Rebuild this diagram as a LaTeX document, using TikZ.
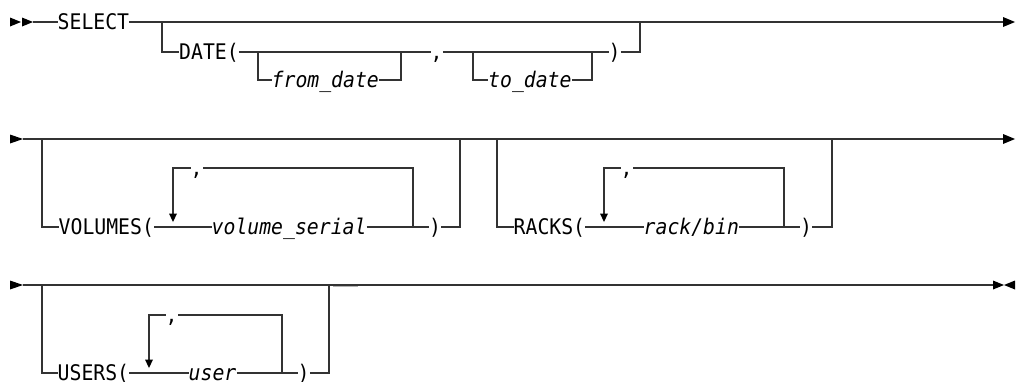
\documentclass[tikz,border=0pt]{standalone}
\usepackage{fontspec}
\newfontfamily\railfont{DejaVu Sans Mono}[FakeStretch=0.92]
\begin{document}
\begin{tikzpicture}[x=1pt,y=-1pt,
  rail/.style={draw=black!80,line width=1.3pt},
  tipfill/.style={fill=black,draw=none},
  kw/.style={font=\railfont\fontsize{21.5}{24}\selectfont, inner sep=0pt, text height=15.7pt, text depth=0pt, anchor=west},
  var/.style={kw, font=\railfont\itshape\fontsize{21.5}{24}\selectfont}]
\useasboundingbox (0,0) rectangle (1017,381);

% ---------------- Row 1 ----------------
\fill[tipfill] (10,17.5) -- (21,22) -- (10,26.5) -- cycle;
\fill[tipfill] (22,17.5) -- (33,22) -- (22,26.5) -- cycle;
\coordinate (r1s) at (33,22);
\coordinate (r1e) at (1003,22);
\node[kw] (select) at (57.5,22) {SELECT};
\draw[rail] (r1s) -- (select.west);
\draw[rail] (select.east) -- (r1e);
\fill[tipfill] (1003,17) -- (1015,22) -- (1003,27) -- cycle;

\coordinate (d0) at (162,22);
\coordinate (d1) at (640,22);
\node[kw] (date) at (179,52) {DATE(};
\coordinate (fj) at (258,52);
\coordinate (fe) at (401,52);
\node[var] (from) at (271.5,80) {from\_date};
\node[kw] (dc) at (430.5,52) {,};
\coordinate (tj) at (473,52);
\coordinate (te) at (592,52);
\node[var] (to) at (488,80) {to\_date};
\node[kw] (dp) at (608.5,52) {)};
\draw[rail] (d0) |- (date.west);
\draw[rail] (date.east) -- (dc.west);
\draw[rail] (fj) |- (from.west);
\draw[rail] (from.east) -| (fe);
\draw[rail] (dc.east) -- (dp.west);
\draw[rail] (tj) |- (to.west);
\draw[rail] (to.east) -| (te);
\draw[rail] (dp.east) -| (d1);

% ---------------- Row 2 ----------------
\fill[tipfill] (10,134.5) -- (23,139) -- (10,143.5) -- cycle;
\coordinate (r2s) at (23,139);
\coordinate (r2e) at (1003,139);
\draw[rail] (r2s) -- (r2e);
\fill[tipfill] (1003,134) -- (1015,139) -- (1003,144) -- cycle;

% VOLUMES
\coordinate (v0) at (42,139);
\coordinate (v1) at (460,139);
\node[kw] (vol) at (58.5,227) {VOLUMES(};
\coordinate (vtl) at (173,168);
\coordinate (vtr) at (413,168);
\coordinate (vr) at (413,227);
\coordinate (va) at (173,214);
\node[var] (vs) at (211.5,227) {volume\_serial};
\node[kw] (vc) at (190.5,168) {,};
\node[kw] (vp) at (429,227) {)};
\draw[rail] (v0) |- (vol.west);
\draw[rail] (vol.east) -- (vs.west);
\draw[rail] (vs.east) -- (vp.west);
\draw[rail] (vp.east) -| (v1);
\draw[rail] (vr) -- (vtr) -- (vc.east);
\draw[rail] (vc.west) -- (vtl) -- (va);
\fill[tipfill] (169,213.5) -- (177,213.5) -- (173,222) -- cycle;

% RACKS
\coordinate (k0) at (497,139);
\coordinate (k1) at (832,139);
\node[kw] (racks) at (513.5,227) {RACKS(};
\coordinate (ktl) at (604,168);
\coordinate (ktr) at (784,168);
\coordinate (kr) at (784,227);
\coordinate (ka) at (604,214);
\node[var] (rb) at (643.5,227) {rack/bin};
\node[kw] (kc) at (620.5,168) {,};
\node[kw] (kp) at (800,227) {)};
\draw[rail] (k0) |- (racks.west);
\draw[rail] (racks.east) -- (rb.west);
\draw[rail] (rb.east) -- (kp.west);
\draw[rail] (kp.east) -| (k1);
\draw[rail] (kr) -- (ktr) -- (kc.east);
\draw[rail] (kc.west) -- (ktl) -- (ka);
\fill[tipfill] (600,213.5) -- (608,213.5) -- (604,222) -- cycle;

% ---------------- Row 3 ----------------
\fill[tipfill] (10,280.5) -- (23,285) -- (10,289.5) -- cycle;
\draw[gray!60,line width=2.5pt] (333,285.8) -- (358,285.8);
\coordinate (r3s) at (23,285);
\coordinate (r3e) at (993,285);
\draw[rail] (r3s) -- (r3e);
\fill[tipfill] (993,280.5) -- (1004,285) -- (993,289.5) -- cycle;
\fill[tipfill] (1015,280.5) -- (1004,285) -- (1015,289.5) -- cycle;

% USERS
\coordinate (u0) at (42,285);
\coordinate (u1) at (329,285);
\node[kw] (users) at (57.5,373) {USERS(};
\coordinate (utl) at (149,315);
\coordinate (utr) at (282,315);
\coordinate (ur) at (282,373);
\coordinate (ua) at (149,360);
\node[var] (us) at (188.5,373) {user};
\node[kw] (uc) at (165.5,315) {,};
\node[kw] (up) at (297.5,373) {)};
\draw[rail] (u0) |- (users.west);
\draw[rail] (users.east) -- (us.west);
\draw[rail] (us.east) -- (up.west);
\draw[rail] (up.east) -| (u1);
\draw[rail] (ur) -- (utr) -- (uc.east);
\draw[rail] (uc.west) -- (utl) -- (ua);
\fill[tipfill] (145,359.5) -- (153,359.5) -- (149,368) -- cycle;
\end{tikzpicture}
\end{document}
